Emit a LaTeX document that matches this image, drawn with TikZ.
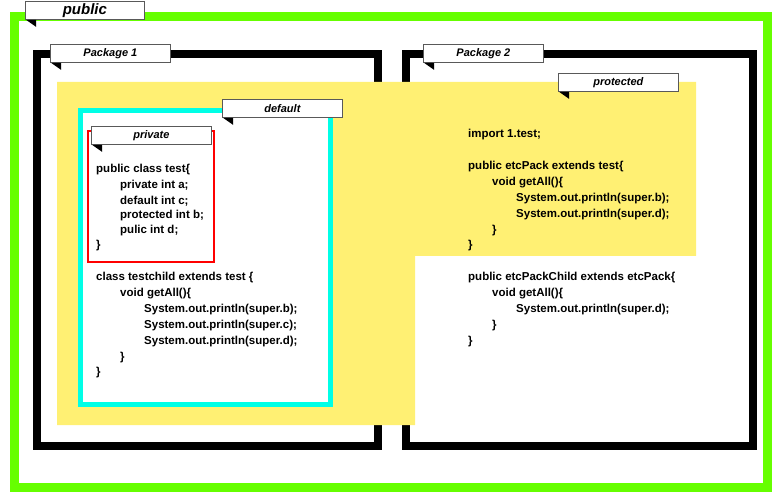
\documentclass[tikz,border=0pt]{standalone}
\usepackage{fontspec}
\setmainfont{Liberation Sans}
\begin{document}
\begin{tikzpicture}[x=1pt,y=-1pt,
  code/.style={anchor=west,inner sep=0pt,font=\bfseries\fontsize{11.5}{12}\selectfont},
  lab/.style={draw=gray!70!black,fill=white,line width=0.8pt,minimum height=18pt,inner sep=0pt,font=\bfseries\itshape\fontsize{11}{12}\selectfont,anchor=north west}]
\useasboundingbox (0,0) rectangle (780,500);
\draw[line width=9pt,color={rgb,255:red,102;green,255;blue,0}] (14,17) rectangle (767,487);
\draw[line width=8pt] (37,54) rectangle (378,446);
\draw[line width=8pt] (406,54) rectangle (753,446);
\fill[color={rgb,255:red,255;green,240;blue,115}] (57,82) -- (696,82) -- (696,256) -- (415,256) -- (415,425) -- (57,425) -- cycle;
\draw[line width=5pt,color={rgb,255:red,0;green,255;blue,230},fill=white] (80,111) rectangle (330,404);
\draw[line width=2.5pt,red] (88,131) rectangle (214,262);
\newcommand\labelbox[4]{%
  \node[lab,minimum width=#3pt] (#1) at (#2) {#4};
  \fill (#1.south west) ++(1,0) -- ++(10,0) -- ++(0,7) -- cycle;}
\labelbox{pub}{25,1}{119}{\fontsize{15}{16}\selectfont public}
\labelbox{pk1}{50,44}{120}{Package 1}
\labelbox{pk2}{423,44}{120}{Package 2}
\labelbox{prot}{558,73}{120}{protected}
\labelbox{def}{222,99}{120}{default}
\labelbox{priv}{91,126}{120}{private}
\foreach \n/\x/\y/\t in {
 a1/96/170/{public class test\{},
 a2/120/186/{private int a;},
 a3/120/201/{default int c;},
 a4/120/216/{protected int b;},
 a5/120/231/{pulic int d;},
 a6/96/246/{\}},
 b1/96/278/{class testchild extends test \{},
 b2/120/294/{void getAll()\{},
 b3/144/310/{System.out.println(super.b);},
 b4/144/326/{System.out.println(super.c);},
 b5/144/342/{System.out.println(super.d);},
 b6/120/358/{\}},
 b7/96/373/{\}},
 c1/468/135/{import 1.test;},
 c2/468/167/{public etcPack extends test\{},
 c3/492/183/{void getAll()\{},
 c4/516/199/{System.out.println(super.b);},
 c5/516/215/{System.out.println(super.d);},
 c6/492/231/{\}},
 c7/468/246/{\}},
 d1/468/278/{public etcPackChild extends etcPack\{},
 d2/492/294/{void getAll()\{},
 d3/516/310/{System.out.println(super.d);},
 d4/492/326/{\}},
 d5/468/342/{\}}}
 \node[code] (\n) at (\x,\y) {\t};
\end{tikzpicture}
\end{document}
